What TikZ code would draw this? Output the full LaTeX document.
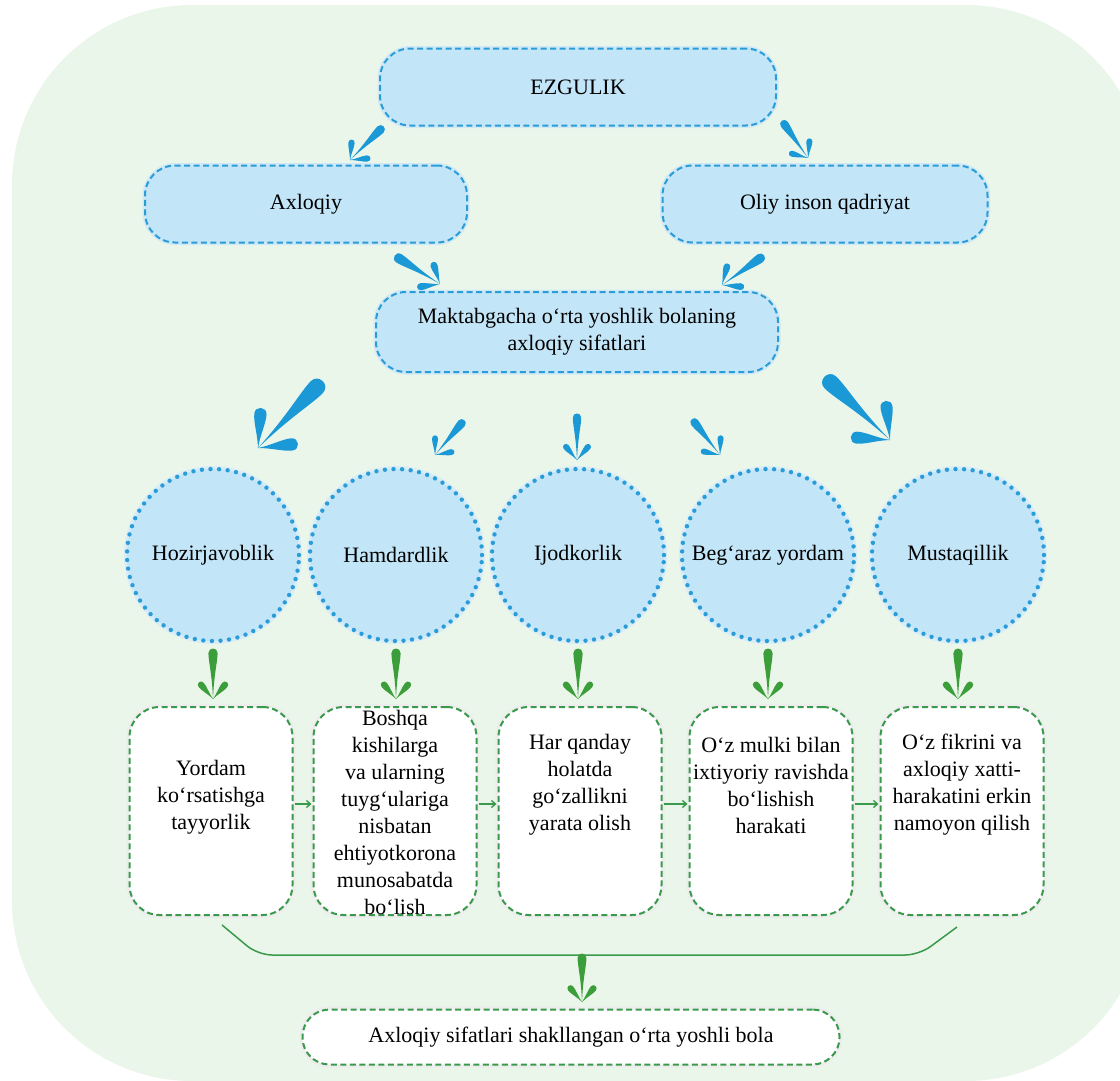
\documentclass[tikz,border=0pt]{standalone}
\usepackage{fontspec}
\setmainfont{Liberation Serif}
\usetikzlibrary{calc,arrows.meta}
\definecolor{bgc}{HTML}{EBF6EA}
\definecolor{bfill}{HTML}{C3E5F8}
\definecolor{bline}{HTML}{2A9CD8}
\definecolor{barrow}{HTML}{1B98D6}
\definecolor{gline}{HTML}{3A9A4C}
\definecolor{garrow}{HTML}{3C9E3A}
\tikzset{
  txt/.style={font=\fontsize{22}{27}\selectfont, text=black, align=center},
  bluebox/.style={txt, draw=bline, fill=bfill, line width=2pt, dash pattern=on 6pt off 3.5pt, rounded corners=30pt, minimum height=77pt,
    preaction={draw=bline!22, solid, line width=5pt}},
  qcircle/.style={txt, circle, fill=bfill, draw=bline, line width=4.4pt, dash pattern=on 0pt off 8.6pt, line cap=round, minimum size=172pt, inner sep=0pt,
    preaction={draw=bline!18, solid, line width=6pt}},
  whitebox/.style={draw=gline, fill=white, line width=2pt, dash pattern=on 6pt off 3.5pt, rounded corners=30pt, minimum width=163pt, minimum height=208pt,
    preaction={draw=black!7, solid, line width=6pt}},
  finalbox/.style={txt, draw=gline, fill=white, line width=2pt, dash pattern=on 6pt off 3.5pt, rounded corners=27pt, minimum width=537pt, minimum height=55pt,
    preaction={draw=black!7, solid, line width=6pt}},
  linkarrow/.style={draw=gline, line width=1.4pt, -{Straight Barb[length=4pt,width=7pt]}},
  bracketline/.style={draw=gline, line width=1.5pt, rounded corners=14pt},
  splash/.pic={
    \fill (0,0) .. controls (0.02,-0.5) and (0.09,-0.74) .. (0.09,-0.9) .. controls (0.09,-1.02) and (-0.09,-1.02) .. (-0.09,-0.9) .. controls (-0.09,-0.74) and (-0.02,-0.5) .. (0,0) -- cycle;
    \fill (0,0) .. controls (0.108,-0.105) and (0.217,-0.157) .. (0.281,-0.234) .. controls (0.339,-0.303) and (0.239,-0.387) .. (0.181,-0.318) .. controls (0.117,-0.241) and (0.085,-0.125) .. (0,0) -- cycle;
    \fill (0,0) .. controls (-0.108,-0.105) and (-0.217,-0.157) .. (-0.281,-0.234) .. controls (-0.339,-0.303) and (-0.239,-0.387) .. (-0.181,-0.318) .. controls (-0.117,-0.241) and (-0.085,-0.125) .. (0,0) -- cycle;
  }
}
\begin{document}
\begin{tikzpicture}[x=1pt,y=-1pt]
\useasboundingbox (0,0) rectangle (1120,1080);
\fill[bgc, rounded corners=180pt] (12,5) rectangle (1146,1081);

% top level
\node[bluebox, minimum width=396pt] (ez) at (578,87) {EZGULIK};
\node[bluebox, minimum width=322pt] (ax) at (306,204) {Axloqiy};
\node[bluebox, minimum width=325pt] (ol) at (825,204) {Oliy inson qadriyat};
\node[bluebox, minimum width=402pt, minimum height=80pt] (mk) at (577,332) {Maktabgacha o‘rta yoshlik bolaning\\axloqiy sifatlari};

% circles
\node[qcircle] (c1) at (213,555) {Hozirjavoblik};
\node[qcircle] (c2) at (396,555) {Hamdardlik};
\node[qcircle] (c3) at (578,555) {Ijodkorlik};
\node[qcircle] (c4) at (768,555) {Beg‘araz yordam};
\node[qcircle] (c5) at (958,555) {Mustaqillik};

% boxes
\node[whitebox] (b1) at (211,811) {};
\node[whitebox] (b2) at (395,811) {};
\node[whitebox] (b3) at (580,811) {};
\node[whitebox] (b4) at (771,811) {};
\node[whitebox] (b5) at (962,811) {};
\node[txt] (t1) at ([yshift=14pt]b1.center) {Yordam\\ko‘rsatishga\\tayyorlik};
\node[txt] (t2) at ([yshift=-1pt]b2.center) {Boshqa\\kishilarga\\va ularning\\tuyg‘ulariga\\nisbatan\\ehtiyotkorona\\munosabatda\\bo‘lish};
\node[txt] (t3) at ([yshift=26pt]b3.center) {Har qanday\\holatda\\go‘zallikni\\yarata olish};
\node[txt] (t4) at ([yshift=26pt]b4.center) {O‘z mulki bilan\\ixtiyoriy ravishda\\bo‘lishish\\harakati};
\node[txt] (t5) at ([yshift=26pt]b5.center) {O‘z fikrini va\\axloqiy xatti-\\harakatini erkin\\namoyon qilish};

% links between boxes
\coordinate (lv) at (0,804);
\draw[linkarrow] ([xshift=1pt]b1.east |- lv) -- ([xshift=-1pt]b2.west |- lv);
\draw[linkarrow] ([xshift=1pt]b2.east |- lv) -- ([xshift=-1pt]b3.west |- lv);
\draw[linkarrow] ([xshift=1pt]b3.east |- lv) -- ([xshift=-1pt]b4.west |- lv);
\draw[linkarrow] ([xshift=1pt]b4.east |- lv) -- ([xshift=-1pt]b5.west |- lv);

% bracket
\draw[bracketline] ([shift={(11,9)}]b1.south) -- ([shift={(47,39)}]b1.south) -- ([shift={(-43,39)}]b5.south) -- ([shift={(-5,11)}]b5.south);

% final
\node[finalbox] (fin) at (571,1037) {Axloqiy sifatlari shakllangan o‘rta yoshli bola};

% blue splash arrows
\pic[color=barrow, rotate=-45, scale=48] at (350,160) {splash};
\pic[color=barrow, rotate=35, scale=46] at (808,158) {splash};
\pic[color=barrow, rotate=58, scale=54] at (440,284) {splash};
\pic[color=barrow, rotate=-55, scale=52] at (722,285) {splash};
\pic[color=barrow, rotate=-44, scale=94] at (258,448) {splash};
\pic[color=barrow, rotate=-40, scale=46] at (435,455) {splash};
\pic[color=barrow, rotate=0, scale=47] at (577,460) {splash};
\pic[color=barrow, rotate=38, scale=46] at (720,455) {splash};
\pic[color=barrow, rotate=46, scale=92] at (890,440) {splash};

% green splash arrows
\pic[color=garrow, scale=51] at (213,699) {splash};
\pic[color=garrow, scale=51] at (396,699) {splash};
\pic[color=garrow, scale=51] at (578,699) {splash};
\pic[color=garrow, scale=51] at (768,699) {splash};
\pic[color=garrow, scale=51] at (958,699) {splash};
\pic[color=garrow, scale=49] at (582,1002) {splash};
\end{tikzpicture}
\end{document}
